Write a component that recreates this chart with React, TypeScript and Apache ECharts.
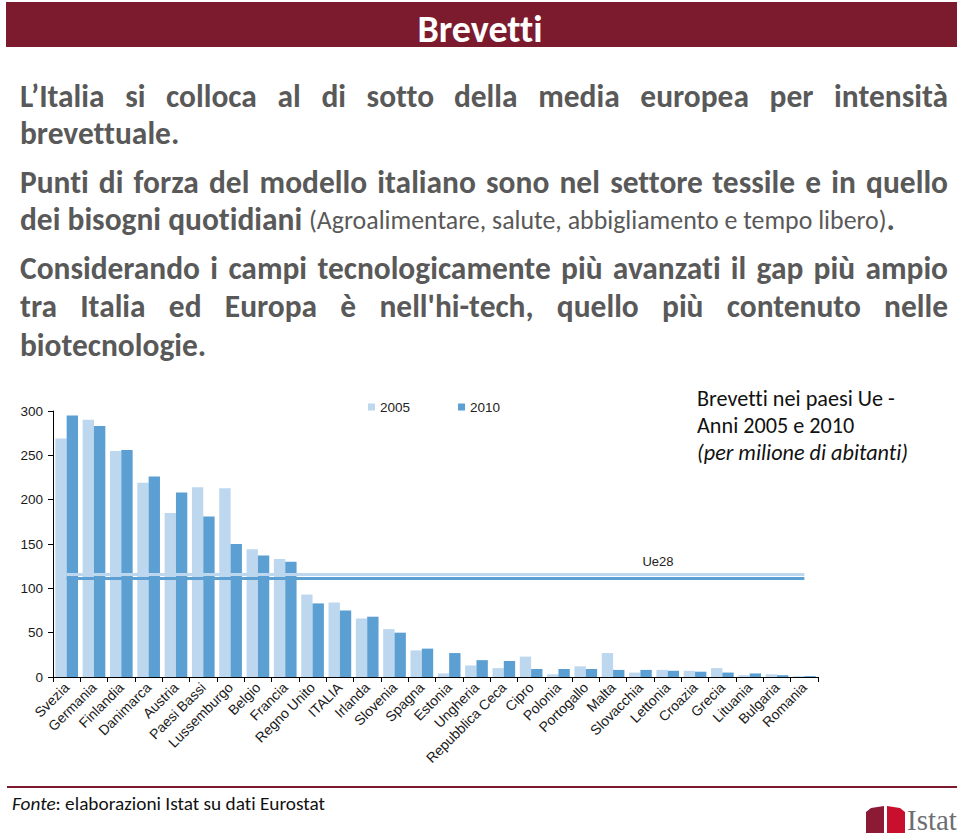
import React, { useEffect, useRef } from "react";
import * as echarts from "echarts";

// ---------- data ----------
const categories = [
  "Svezia", "Germania", "Finlandia", "Danimarca", "Austria", "Paesi Bassi", "Lussemburgo",
  "Belgio", "Francia", "Regno Unito", "ITALIA", "Irlanda", "Slovenia", "Spagna", "Estonia",
  "Ungheria", "Repubblica Ceca", "Cipro", "Polonia", "Portogallo", "Malta", "Slovacchia",
  "Lettonia", "Croazia", "Grecia", "Lituania", "Bulgaria", "Romania",
];
const values2005 = [269, 290, 255, 219, 185, 214, 213, 144, 133, 93, 84, 66, 54, 30, 4, 13, 10, 23, 3, 12, 27, 5, 8, 7, 10, 2, 3, 1];
const values2010 = [295, 283, 256, 226, 208, 181, 150, 137, 130, 83, 75, 68, 50, 32, 27, 19, 18, 9, 9, 9, 8, 8, 7, 6, 5, 4, 2, 1];
const ue28Values = [115.5, 111];
const seriesNames = ["2005", "2010"];
const yMin = 0;
const yMax = 300;
const yStep = 50;

// ---------- texts ----------
const headerTitle = "Brevetti";
const justifiedLines = [
  "L’Italia si colloca al di sotto della media europea per intensità",
  "Punti di forza del modello italiano sono nel settore tessile e in quello",
  "Considerando i campi tecnologicamente più avanzati il gap più ampio",
  "tra Italia ed Europa è nell'hi-tech, quello più contenuto nelle",
];
const lastLines = ["brevettuale.", "biotecnologie."];
const boldPart = "dei bisogni quotidiani";
const regularPart = "(Agroalimentare, salute, abbigliamento e tempo libero)";
const chartTitleLines = ["Brevetti nei paesi Ue -", "Anni 2005 e 2010", "(per milione di abitanti)"];
const ueLabel = "Ue28";
const sourceItalic = "Fonte";
const sourceRest = ": elaborazioni Istat su dati Eurostat";
const logoText = "Istat";

// ---------- styles ----------
const MAROON = "#7c1a2e";
const BODY = "#595959";
const LIGHT = "#bdd7ee";
const DARK = "#5b9fd3";
const SANS = "Carlito, Lato";
const ARIAL = "'Liberation Sans', Arial, sans-serif";

export default function App() {
  const ref = useRef<HTMLDivElement>(null);

  useEffect(() => {
    const el = ref.current;
    if (!el) return;
    const chart = echarts.init(el, null, { renderer: "svg" });

    const cv = document.createElement("canvas");
    const ctx = cv.getContext("2d")!;
    const mw = (t: string, size: number, weight = "normal", style = "normal") => {
      ctx.font = `${style === "italic" ? "italic " : ""}${weight === "bold" ? "bold " : ""}${size}px ${SANS}`;
      return ctx.measureText(t).width;
    };
    const fit = (t: string, target: number, weight = "normal", style = "normal") =>
      (100 * target) / mw(t, 100, weight, style);

    const txt = (x: number, y: number, text: string, size: number, o: any = {}) => ({
      type: "text",
      x,
      y,
      silent: true,
      style: {
        text,
        fontFamily: o.family || SANS,
        fontSize: size,
        fontWeight: o.weight || "normal",
        fontStyle: o.style || "normal",
        fill: o.fill || BODY,
        textAlign: o.align || "left",
        align: o.align || "left",
        textVerticalAlign: "middle",
        verticalAlign: "middle",
        rich: o.rich,
      },
    });

    const LEFT = 20;
    const RIGHT = 948;
    const W = RIGHT - LEFT;

    let bodySize = fit(boldPart, 282, "bold");
    const maxNat = Math.max(...justifiedLines.map((t) => mw(t, bodySize, "bold")));
    if (maxNat > W * 0.985) bodySize *= (W * 0.985) / maxNat;
    const regSize = fit(regularPart, 578, "normal");

    const elements: any[] = [];
    // header
    elements.push({ type: "rect", shape: { x: 6, y: 2, width: 951, height: 45 }, style: { fill: MAROON }, silent: true });
    elements.push(txt(480, 29, headerTitle, fit(headerTitle, 124, "bold"), { weight: "bold", fill: "#ffffff", align: "center" }));

    // justified body lines
    const justY = [96, 182, 268, 306];
    justifiedLines.forEach((line, li) => {
      const words = line.split(" ");
      const ws = words.map((w) => mw(w, bodySize, "bold"));
      const total = ws.reduce((a, b) => a + b, 0);
      const gap = (W - total) / (words.length - 1);
      let x = LEFT;
      words.forEach((w, i) => {
        elements.push(txt(x, justY[li], w, bodySize, { weight: "bold" }));
        x += ws[i] + gap;
      });
    });
    elements.push(txt(LEFT, 133, lastLines[0], bodySize, { weight: "bold" }));
    elements.push(txt(LEFT, 345, lastLines[1], bodySize, { weight: "bold" }));

    // mixed line
    const y4 = 219;
    const baseline = y4 + 0.36 * bodySize;
    const wBold = mw(boldPart, bodySize, "bold");
    const sp = mw(" ", bodySize, "bold");
    elements.push(txt(LEFT, y4, boldPart, bodySize, { weight: "bold" }));
    const rx = LEFT + wBold + sp;
    elements.push(txt(rx, baseline - 0.387 * regSize, regularPart, regSize));
    const wReg = mw(regularPart, regSize);
    elements.push(txt(rx + wReg, y4, ".", bodySize, { weight: "bold" }));

    // chart title
    const ctSize = fit(chartTitleLines[2], 211, "normal", "italic");
    elements.push(txt(697, 398, chartTitleLines[0], ctSize, { fill: "#111" }));
    elements.push(txt(697, 425, chartTitleLines[1], ctSize, { fill: "#111" }));
    elements.push(txt(697, 452, chartTitleLines[2], ctSize, { fill: "#111", style: "italic" }));

    // Ue28 label
    elements.push(txt(658, 561, ueLabel, 13, { family: ARIAL, fill: "#222", align: "center" }));

    // footer
    elements.push({ type: "line", shape: { x1: 7, y1: 787, x2: 957, y2: 787 }, style: { stroke: MAROON, lineWidth: 2 }, silent: true });
    const fSize = fit(sourceItalic + sourceRest, 314, "normal");
    elements.push(
      txt(12, 803, `{i|${sourceItalic}}${sourceRest}`, fSize, {
        fill: "#111",
        rich: { i: { fontStyle: "italic", fontFamily: SANS, fontSize: fSize, fill: "#111" } },
      })
    );
    // logo
    elements.push({
      type: "polygon",
      shape: { points: [[866, 812], [871, 808], [884, 806], [884, 833], [866, 833]] },
      style: { fill: "#8c1a35" },
      silent: true,
    });
    elements.push({
      type: "polygon",
      shape: { points: [[887, 806], [900, 808], [905, 812], [905, 833], [887, 833]] },
      style: { fill: "#c8102e" },
      silent: true,
    });
    elements.push(txt(907, 820, logoText, 29, { family: "'Liberation Serif', serif", fill: "#6d6e71" }));

    const markLine = (value: number, color: string) => ({
      silent: true,
      symbol: ["none", "none"],
      label: { show: false },
      emphasis: { disabled: true },
      lineStyle: { color, width: 3, type: "solid" },
      data: [[{ coord: [categories[0], value] }, { coord: [categories[categories.length - 1], value] }]],
    });

    chart.setOption({
      animation: false,
      backgroundColor: "#ffffff",
      grid: { left: 53, right: 142, top: 411, bottom: 162, containLabel: false },
      legend: {
        data: seriesNames,
        left: 368,
        top: 400,
        padding: 0,
        icon: "rect",
        itemWidth: 7,
        itemHeight: 7,
        itemGap: 48,
        textStyle: { fontSize: 13.5, fontFamily: ARIAL, color: "#222" },
      },
      xAxis: {
        type: "category",
        data: categories,
        axisLine: { show: true, lineStyle: { color: "#000", width: 1 } },
        axisTick: { show: true, alignWithLabel: false, length: 5, lineStyle: { color: "#000" } },
        axisLabel: { interval: 0, rotate: 45, margin: 8, fontSize: 14, fontFamily: ARIAL, color: "#1a1a1a" },
        splitLine: { show: false },
      },
      yAxis: {
        type: "value",
        min: yMin,
        max: yMax,
        interval: yStep,
        axisLine: { show: true, lineStyle: { color: "#000", width: 1 } },
        axisTick: { show: true, length: 5, lineStyle: { color: "#000" } },
        axisLabel: { margin: 10, fontSize: 13.5, fontFamily: ARIAL, color: "#1a1a1a" },
        splitLine: { show: false },
      },
      series: [
        {
          name: seriesNames[0],
          type: "bar",
          data: values2005,
          barGap: "0%",
          barCategoryGap: "17%",
          itemStyle: { color: LIGHT },
        },
        {
          name: seriesNames[1],
          type: "bar",
          data: values2010,
          barGap: "0%",
          barCategoryGap: "17%",
          itemStyle: { color: DARK },
        },
        {
          name: "Ue28 " + seriesNames[0],
          type: "line",
          data: [],
          markLine: markLine(ue28Values[0], LIGHT),
        },
        {
          name: "Ue28 " + seriesNames[1],
          type: "line",
          data: [],
          markLine: markLine(ue28Values[1], DARK),
        },
      ],
      graphic: { elements },
    });

    return () => chart.dispose();
  }, []);

  return (
    <>
      <style>{`#root text { font-variant-ligatures: none !important; }`}</style>
      <div
        ref={ref}
        style={{ position: "absolute", left: 0, top: 0, width: 960, height: 839, background: "#fff" }}
      />
    </>
  );
}
